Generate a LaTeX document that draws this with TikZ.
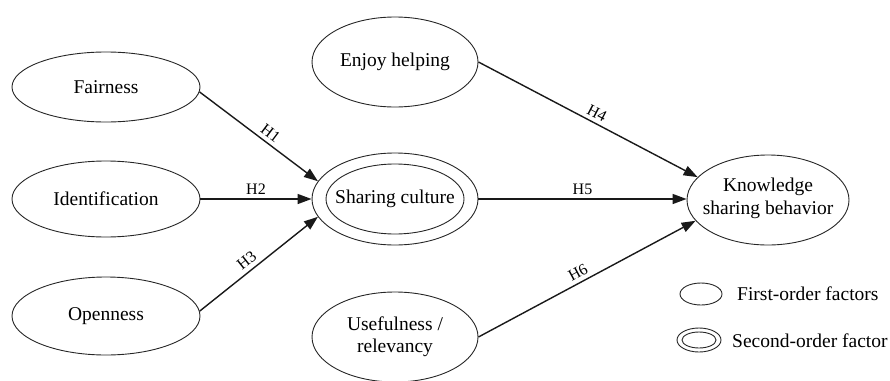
\documentclass[tikz,border=0pt]{standalone}
\usepackage{fontspec}
\setmainfont{Liberation Serif}
\usetikzlibrary{shapes.geometric,arrows.meta}
\begin{document}
\begin{tikzpicture}[x=1pt,y=-1pt,
  fac/.style={draw=black!85, line width=0.9pt, ellipse, inner sep=0pt, align=center,
    font=\fontsize{19.5}{22}\selectfont},
  txt/.style={inner sep=0pt, align=center, font=\fontsize{19.5}{23}\selectfont},
  arr/.style={draw=black!90, line width=1.4pt, -{Triangle[length=14pt,width=10pt]}},
  lab/.style={font=\fontsize{16}{18}\selectfont, above, sloped, inner sep=4pt},
  leg/.style={font=\fontsize{19.5}{22}\selectfont, anchor=west, inner sep=0pt}]
\useasboundingbox (0,0) rectangle (890,380);
\node[fac, minimum width=188pt, minimum height=70pt] (fair) at (106,87) {Fairness};
\node[fac, minimum width=188pt, minimum height=76pt] (iden) at (106,199) {Identification};
\node[fac, minimum width=188pt, minimum height=78pt] (open) at (106,316) {Openness};
\node[fac, minimum width=166pt, minimum height=90pt] (enj) at (395,62) {Enjoy helping};
\node[fac, minimum width=166pt, minimum height=92pt] (sc) at (395,199) {};
\node[fac, minimum width=138pt, minimum height=70pt] (sci) at (395,199) {};
\node[txt] (sct) at (395,199) {Sharing culture};
\node[fac, minimum width=166pt, minimum height=90pt] (use) at (395,337) {Usefulness /\\relevancy};
\node[fac, minimum width=162pt, minimum height=90pt] (kn) at (768,200) {};
\node[txt] (knt) at (768,198) {Knowledge\\sharing behavior};
% legend
\node[fac, minimum width=42pt, minimum height=22pt] (l1) at (701,294) {};
\node[fac, minimum width=44pt, minimum height=24pt] (l2o) at (699,340) {};
\node[fac, minimum width=34pt, minimum height=16pt] (l2i) at (699,340) {};
\node[leg] (t1) at (737,294) {First-order factors};
\node[leg] (t2) at (732,341) {Second-order factor};
% arrows
\draw[arr] (fair.-3) -- node[lab, pos=0.55] {H1} (sc.167);
\draw[arr] (iden.east) -- node[lab] {H2} (sc.west);
\draw[arr] (open.3) -- node[lab, pos=0.45] {H3} (sc.193);
\draw[arr] (enj.east) -- node[lab, pos=0.52] {H4} (kn.162);
\draw[arr] (sc.east) -- node[lab] {H5} (sc.east -| kn.west);
\draw[arr] (use.east) -- node[lab, pos=0.48] {H6} (kn.196);
\end{tikzpicture}
\end{document}
